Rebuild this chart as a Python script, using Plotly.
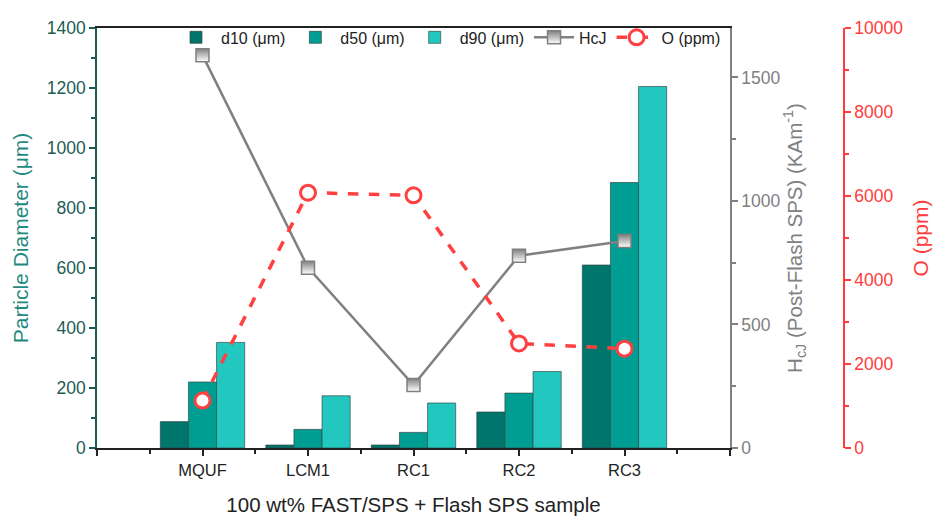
import plotly.graph_objects as go

categories = ["MQUF", "LCM1", "RC1", "RC2", "RC3"]
d10 = [88, 10, 10, 120, 610]
d50 = [220, 62, 52, 183, 885]
d90 = [352, 174, 150, 255, 1205]
hcj = [1590, 730, 255, 778, 838]
oxygen = [1130, 6080, 6017, 2490, 2364]

xpos = [i + 1 for i in range(len(categories))]
FONT = "Liberation Sans, Arial, sans-serif"

fig = go.Figure()
bar_line = dict(color="rgba(50,70,70,0.85)", width=0.8)
fig.add_trace(go.Bar(x=xpos, y=d10, name="d10 (μm)", marker=dict(color="#00756b", line=bar_line)))
fig.add_trace(go.Bar(x=xpos, y=d50, name="d50 (μm)", marker=dict(color="#009d93", line=bar_line)))
fig.add_trace(go.Bar(x=xpos, y=d90, name="d90 (μm)", marker=dict(color="#22c8bf", line=bar_line)))
fig.add_trace(go.Scatter(
    x=xpos, y=hcj, name="HcJ", yaxis="y2", mode="lines+markers",
    line=dict(color="#808080", width=2.5),
    marker=dict(symbol="square", size=13, color="#808080",
                gradient=dict(type="vertical", color="white"),
                line=dict(color="#808080", width=1.5)),
))
fig.add_trace(go.Scatter(
    x=xpos, y=oxygen, name="O (ppm)", yaxis="y3", mode="lines+markers",
    line=dict(color="#ff4040", width=3.5, dash="dash"),
    marker=dict(symbol="circle", size=15, color="white",
                line=dict(color="#ff4040", width=3)),
))

PW = 839
xd = (730 - 97) / PW
fig.update_layout(
    width=938, height=511,
    margin=dict(l=89, r=10, t=14, b=71),
    plot_bgcolor="white", paper_bgcolor="white",
    font=dict(family=FONT, size=16, color="#222"),
    barmode="group", bargap=0.2, bargroupgap=0,
    showlegend=True,
    legend=dict(orientation="h", x=(726 - 97) / PW, xanchor="right", y=1.018, yanchor="top",
                font=dict(size=16, color="#222"), bgcolor="rgba(0,0,0,0)", traceorder="normal",
                itemwidth=40),
    xaxis=dict(
        domain=[0, xd], range=[0, len(categories) + 1], automargin=False,
        tickvals=[0] + xpos + [len(categories) + 1],
        ticktext=[""] + categories + [""],
        ticks="outside", ticklen=6, tickwidth=1.5, tickcolor="#222",
        minor=dict(ticks="outside", ticklen=4, tickwidth=1.5, dtick=0.5, tick0=0.5, tickcolor="#222"),
        showline=True, linecolor="#222", linewidth=1.5, mirror=True,
        showgrid=False, zeroline=False,
        tickfont=dict(size=16.5, color="#222"),
        title=dict(text="100 wt% FAST/SPS + Flash SPS sample", font=dict(size=20.5, color="#222"), standoff=20),
    ),
    yaxis=dict(
        range=[0, 1400], dtick=200, tick0=0,
        ticks="outside", ticklen=6, tickwidth=1.5, tickcolor="#1d5c55",
        minor=dict(ticks="outside", ticklen=4, tickwidth=1.5, dtick=100, tickcolor="#1d5c55"),
        showline=True, linecolor="#1d5c55", linewidth=1.5,
        showgrid=False, zeroline=False,
        tickfont=dict(size=17.5, color="#1d5c55"),
        title=dict(text="Particle Diameter (μm)", font=dict(size=21, color="#1f8a7f"), standoff=12),
    ),
    yaxis2=dict(
        overlaying="y", side="right", anchor="x",
        range=[0, 1700], tickvals=[0, 500, 1000, 1500],
        ticks="outside", ticklen=6, tickwidth=1.5, tickcolor="#808080",
        minor=dict(ticks="outside", ticklen=4, tickwidth=1.5, tickvals=[250, 750, 1250], tickcolor="#808080"),
        showline=True, linecolor="#808080", linewidth=1.5,
        showgrid=False, zeroline=False,
        tickfont=dict(size=17.5, color="#808080"),
        title=dict(text="H<sub>cJ</sub> (Post-Flash SPS) (KAm<sup>-1</sup>)", font=dict(size=20.5, color="#808080"), standoff=6),
    ),
    yaxis3=dict(
        overlaying="y", side="right", anchor="free", position=(844 - 97) / PW,
        range=[0, 10000], dtick=2000, tick0=0, tickformat="d",
        ticks="outside", ticklen=6, tickwidth=1.5, tickcolor="#ff3b3b",
        minor=dict(ticks="outside", ticklen=4, tickwidth=1.5, dtick=1000, tickcolor="#ff3b3b"),
        showline=True, linecolor="#ff3b3b", linewidth=1.5,
        showgrid=False, zeroline=False,
        tickfont=dict(size=17.5, color="#ff3b3b"),
        title=dict(text="O (ppm)", font=dict(size=21, color="#ff3b3b"), standoff=10),
    ),
)

fig.write_html("out.html")
